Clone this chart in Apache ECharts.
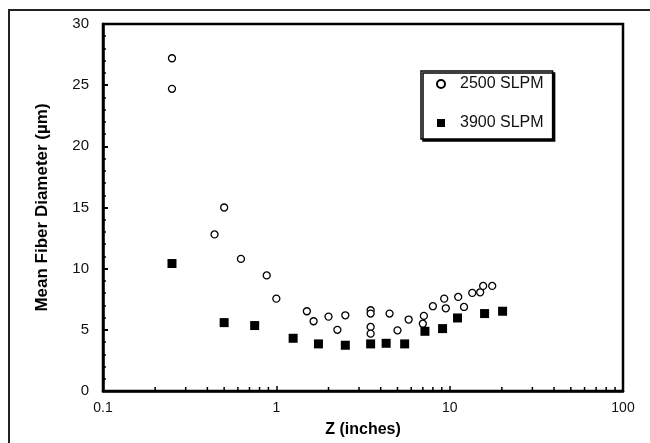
<!DOCTYPE html>
<html>
<head>
<meta charset="utf-8">
<script src="https://cdn.jsdelivr.net/npm/echarts@6/dist/echarts.min.js"></script>
<style>
html,body{margin:0;padding:0;background:#fff;}
#chart{width:650px;height:443px;}
</style>
</head>
<body>
<div id="chart"></div>
<script>
// ---- data ----
const seriesNames = ['2500 SLPM', '3900 SLPM'];
const z2500 = [0.25, 0.25, 0.5, 0.44, 0.625, 0.88, 1.0, 1.5, 1.64, 2.0, 2.25, 2.5, 3.5, 3.5, 3.5, 3.5, 4.5, 5.0, 5.8, 7.0, 7.1, 8.0, 9.3, 9.5, 11.2, 12.1, 13.5, 15.0, 15.6, 17.6];
const d2500 = [27.2, 24.7, 15.0, 12.8, 10.8, 9.45, 7.55, 6.52, 5.7, 6.08, 5.0, 6.19, 6.6, 6.33, 5.24, 4.69, 6.33, 4.96, 5.84, 5.5, 6.14, 6.93, 7.55, 6.76, 7.69, 6.87, 8.02, 8.07, 8.59, 8.59];
const z3900 = [0.25, 0.5, 0.75, 1.25, 1.75, 2.5, 3.5, 4.3, 5.5, 7.2, 9.1, 11.1, 15.9, 20.2];
const d3900 = [10.42, 5.59, 5.35, 4.31, 3.85, 3.74, 3.85, 3.9, 3.85, 4.88, 5.1, 5.97, 6.33, 6.52];
const xMinorTicks = [0.2, 0.3, 0.4, 0.5, 0.6, 0.7, 0.8, 0.9, 2, 3, 4, 5, 6, 7, 8, 9, 20, 30, 40, 50, 60, 70, 80, 90];
const xTitle = 'Z (inches)';
const yTitle = 'Mean Fiber Diameter (\u00b5m)';

const pairs = (xs, ys) => xs.map((x, i) => [x, ys[i]]);
const FONT = '"Liberation Sans", Arial, Helvetica, sans-serif';

const chart = echarts.init(document.getElementById('chart'), null, {renderer: 'canvas'});
chart.setOption({
  animation: false,
  backgroundColor: '#fff',
  textStyle: {fontFamily: FONT},
  graphic: [{
    type: 'rect', silent: true, z: -1,
    shape: {x: 9, y: 10, width: 700, height: 500},
    style: {fill: 'none', stroke: '#222', lineWidth: 2}
  }],
  grid: {
    left: 103, right: 27, top: 24, bottom: 52,
    show: true, borderColor: '#000', borderWidth: 2.5, backgroundColor: 'transparent'
  },
  legend: {
    data: [
      {name: seriesNames[0]},
      {name: seriesNames[1], icon: 'path://M0,0L1,0L1,1L0,1Z'}
    ],
    orient: 'vertical',
    left: 421, top: 71,
    itemWidth: 28, itemHeight: 8,
    itemGap: 23,
    symbolKeepAspect: true,
    padding: [5, 9, 8, 15],
    backgroundColor: '#fff',
    borderColor: '#000', borderWidth: 1.5,
    shadowColor: '#000', shadowBlur: 0, shadowOffsetX: 2, shadowOffsetY: 2,
    textStyle: {fontFamily: FONT, fontSize: 16, color: '#111'},
    selectedMode: false
  },
  xAxis: {
    type: 'log', logBase: 10, min: 0.1, max: 100,
    name: xTitle, nameLocation: 'middle', nameGap: 31,
    nameTextStyle: {fontFamily: FONT, fontSize: 16, fontWeight: 'bold', color: '#000'},
    axisLine: {show: true, lineStyle: {color: '#000', width: 2.5}},
    axisTick: {show: true, inside: true, length: 5, lineStyle: {color: '#000', width: 1.5}},
    axisLabel: {margin: 10, fontSize: 14, color: '#111', fontFamily: FONT,
      formatter: v => String(+v.toPrecision(3))},
    splitLine: {show: false}
  },
  yAxis: {
    type: 'value', min: 0, max: 30, interval: 5,
    name: yTitle, nameLocation: 'middle', nameGap: 52, nameRotate: 90,
    nameTextStyle: {fontFamily: FONT, fontSize: 17, fontWeight: 'bold', color: '#000'},
    axisLine: {show: true, lineStyle: {color: '#000', width: 2.5}},
    axisTick: {show: true, inside: true, length: 5, lineStyle: {color: '#000', width: 2}},
    minorTick: {show: true, splitNumber: 5, length: 3, lineStyle: {color: '#000', width: 1.5}},
    axisLabel: {margin: 14, fontSize: 15, color: '#111', fontFamily: FONT},
    splitLine: {show: false}
  },
  series: [
    {
      name: seriesNames[0], type: 'scatter', data: pairs(z2500, d2500),
      symbol: 'circle', symbolSize: 7,
      itemStyle: {color: '#fff', borderColor: '#000', borderWidth: 1.3, opacity: 1},
      z: 3
    },
    {
      name: seriesNames[1], type: 'scatter', data: pairs(z3900, d3900),
      symbol: 'rect', symbolSize: 9,
      itemStyle: {color: '#000', opacity: 1},
      z: 3
    },
    {
      name: 'xminor', type: 'custom', silent: true, z: 4,
      data: xMinorTicks.map(v => [v, 0]),
      renderItem: (params, api) => {
        const p = api.coord([api.value(0), 0]);
        return {type: 'line', shape: {x1: p[0], y1: p[1], x2: p[0], y2: p[1] - 4},
                style: {stroke: '#000', lineWidth: 1.5}};
      },
      clip: false
    }
  ]
});
</script>
</body>
</html>
